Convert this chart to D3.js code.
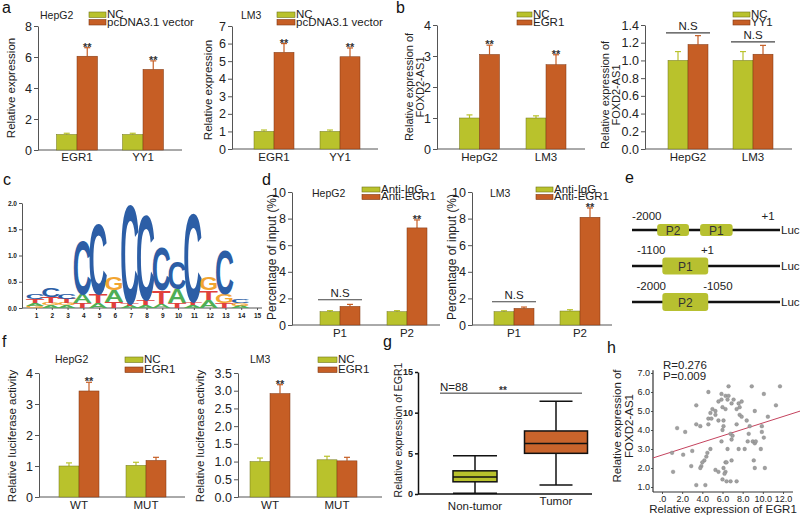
<!DOCTYPE html>
<html>
<head>
<meta charset="utf-8">
<script src="https://cdn.jsdelivr.net/npm/d3@7"></script>
<style>
  body { margin: 0; background: #fff; }
  svg { font-family: Arial, "Liberation Sans", sans-serif; }
</style>
</head>
<body>
<svg id="fig" width="800" height="516"></svg>
<script>
// ---------- data ----------
// a: overexpression of EGR1 / YY1
const genesA = ['EGR1', 'YY1'];
const hepA_nc = [1.0, 1.0], hepA_ncErr = [0.08, 0.08];
const hepA_vec = [6.05, 5.2], hepA_vecErr = [0.55, 0.55];
const lm3A_nc = [1.0, 1.0], lm3A_ncErr = [0.08, 0.08];
const lm3A_vec = [5.5, 5.25], lm3A_vecErr = [0.5, 0.5];

// b: FOXD2-AS1 after EGR1 / YY1
const cellsB = ['HepG2', 'LM3'];
const egrB_nc = [1.0, 1.0], egrB_ncErr = [0.1, 0.07];
const egrB_trt = [3.05, 2.72], egrB_trtErr = [0.3, 0.32];
const yyB_nc = [1.0, 1.0], yyB_ncErr = [0.1, 0.1];
const yyB_trt = [1.18, 1.07], yyB_trtErr = [0.1, 0.1];
const yyB_nsLevel = [1.31, 1.21];

// c: motif logo, letters stacked bottom -> top, height in bits
const logoPos = d3.range(1, 16);
const logoStacks = [
  [['G', 0.04], ['A', 0.05], ['T', 0.08], ['C', 0.10]],
  [['A', 0.05], ['G', 0.04], ['T', 0.12], ['C', 0.19]],
  [['A', 0.05], ['G', 0.04], ['T', 0.09], ['C', 0.10]],
  [['T', 0.10], ['A', 0.17], ['C', 1.05]],
  [['A', 0.10], ['T', 0.17], ['C', 1.40]],
  [['T', 0.12], ['A', 0.22], ['G', 0.25]],
  [['A', 0.04], ['T', 0.04], ['C', 1.95]],
  [['A', 0.05], ['T', 0.10], ['C', 1.68]],
  [['A', 0.08], ['T', 0.26], ['C', 0.85]],
  [['T', 0.10], ['A', 0.27], ['C', 0.54]],
  [['A', 0.05], ['T', 0.06], ['C', 1.75]],
  [['A', 0.15], ['T', 0.19], ['G', 0.25]],
  [['T', 0.10], ['G', 0.17], ['C', 0.88]],
  [['A', 0.04], ['G', 0.05], ['C', 0.08]],
  []
];

// d: ChIP
const sitesD = ['P1', 'P2'];
const hepD_igg = [1.0, 1.0], hepD_iggErr = [0.08, 0.08];
const hepD_egr = [1.4, 7.3], hepD_egrErr = [0.15, 0.6];
const lm3D_igg = [1.0, 1.05], lm3D_iggErr = [0.07, 0.1];
const lm3D_egr = [1.25, 8.1], lm3D_egrErr = [0.1, 0.7];

// e: promoter constructs
const constructRows = [
  { boxes: [['P2', 17, 38.5], ['P1', 46, 68]], labels: [['-2000', 10], ['+1', 92]] },
  { boxes: [['P1', 20.5, 51.5]], labels: [['-1100', 13], ['+1', 51]] },
  { boxes: [['P2', 20.5, 51.5]], labels: [['-2000', 13], ['-1050', 58]] }
];

// f: luciferase
const typesF = ['WT', 'MUT'];
const hepF_nc = [1.0, 1.02], hepF_ncErr = [0.1, 0.1];
const hepF_egr = [3.42, 1.18], hepF_egrErr = [0.28, 0.1];
const lm3F_nc = [1.0, 1.05], lm3F_ncErr = [0.1, 0.1];
const lm3F_egr = [2.92, 1.02], lm3F_egrErr = [0.25, 0.1];

// g: EGR1 in tissues
const groupsG = ['Non-tumor', 'Tumor'];
const boxMin = [0.1, 1.1], boxQ1 = [1.5, 5.0], boxMed = [2.1, 6.2], boxQ3 = [2.85, 7.75], boxMax = [4.7, 11.4];

// h: correlation
const egr1H = [6.6, 8.9, 11.7, 4.6, 5.9, 6.3, 6.6, 10.1, 5.9, 6.5, 7.1, 3.4, 11.3, 6.9, 7.6, 7.9, 6.0, 5.0, 5.3, 6.3,
  7.4, 9.2, 4.8, 5.3, 5.6, 7.7, 7.9, 10.5, 8.4, 4.6, 3.4, 3.8, 1.5, 2.3, 6.1, 6.0, 7.4, 8.7, 9.9, 8.6,
  9.9, 6.8, 7.0, 10.1, 8.5, 5.9, 9.0, 9.2, 6.9, 4.8, 6.5, 1.0, 2.1, 3.0, 9.8, 4.5, 4.4, 4.2, 4.0, 6.9,
  3.9, 3.8, 2.9, 9.1, 6.3, 6.4, 5.3, 5.6, 6.1, 6.3, 6.2, 9.2, 10.2, 1.1, 6.0, 6.4, 6.8, 7.4, 3.4, 4.3,
  8.2, 4.6, 7.7, 5.6, 4.9, 6.1, 7.6, 9.3];
const foxdH = [6.3, 6.3, 6.3, 6.0, 5.9, 5.8, 5.8, 5.9, 5.6, 5.6, 5.6, 5.3, 5.3, 5.4, 5.4, 5.5, 5.2, 5.1, 5.0, 5.1,
  5.1, 5.0, 4.9, 4.8, 4.5, 4.8, 4.7, 4.7, 4.5, 4.6, 4.3, 4.2, 4.1, 3.9, 4.2, 4.0, 4.3, 4.2, 4.2, 3.8,
  3.9, 3.8, 3.7, 3.6, 3.4, 3.4, 3.4, 3.3, 3.5, 3.0, 3.0, 2.8, 2.7, 2.9, 3.0, 2.8, 2.6, 2.4, 2.3, 2.4,
  2.1, 2.0, 2.1, 2.4, 2.3, 2.3, 1.9, 1.8, 2.0, 1.8, 1.7, 2.0, 2.0, 1.8, 1.4, 1.3, 1.3, 1.3, 1.1, 1.1,
  3.0, 4.3, 5.2, 5.5, 4.6, 4.5, 3.0, 3.4];
const fitIntercept = 2.68, fitSlope = 0.169;

// ---------- drawing ----------
const ncColor = '#b9c22c', trtColor = '#c65e25';
const ncEdge = '#6f7419', trtEdge = '#7d3612';
const svg = d3.select('#fig');

function panelLetter(t, x, y) {
  svg.append('text').attr('x', x).attr('y', y).attr('font-size', 16).attr('fill', '#111').text(t);
}

function rotTitle(lines, xs, cy, size) {
  lines.forEach(function (t, i) {
    svg.append('text')
      .attr('transform', 'translate(' + xs[i] + ',' + cy + ') rotate(-90)')
      .attr('text-anchor', 'middle').attr('font-size', size).attr('fill', '#222').text(t);
  });
}

function styleAxis(g, size) {
  g.selectAll('.domain').attr('stroke', '#555').attr('stroke-width', 1);
  g.selectAll('.tick line').attr('stroke', '#555');
  g.selectAll('.tick text').attr('font-size', size).attr('fill', '#222').attr('font-family', 'Arial, "Liberation Sans", sans-serif');
}

function barPanel(c) {
  var y = d3.scaleLinear().domain([0, c.ymax]).range([c.base, c.top]);
  var x = d3.scalePoint().domain(c.cats).range(c.cx);
  var g = svg.append('g');

  var ax = g.append('g').attr('transform', 'translate(' + c.ax + ',0)')
    .call(d3.axisLeft(y).tickValues(c.ticks).tickFormat(c.fmt).tickSize(4).tickSizeOuter(0).tickPadding(2));
  styleAxis(ax, 12.5);
  g.append('line').attr('x1', c.ax).attr('x2', c.xEnd).attr('y1', c.base).attr('y2', c.base)
    .attr('stroke', '#555');

  c.cats.forEach(function (cat) {
    g.append('text').attr('x', x(cat)).attr('y', c.labY)
      .attr('text-anchor', 'middle').attr('font-size', 11.5).attr('fill', '#222').text(cat);
  });

  var series = [
    { vals: c.s1, errs: c.e1, fill: ncColor, edge: ncEdge, off: -1 },
    { vals: c.s2, errs: c.e2, fill: trtColor, edge: trtEdge, off: 0 }
  ];
  series.forEach(function (s) {
    c.cats.forEach(function (cat, i) {
      var x0 = x(cat) + s.off * c.bw;
      var cx = x0 + c.bw / 2;
      var top = y(s.vals[i] + s.errs[i]);
      g.append('line').attr('x1', cx).attr('x2', cx).attr('y1', y(s.vals[i])).attr('y2', top)
        .attr('stroke', s.fill).attr('stroke-width', 1.2);
      g.append('line').attr('x1', cx - 3).attr('x2', cx + 3).attr('y1', top).attr('y2', top)
        .attr('stroke', s.fill).attr('stroke-width', 1.2);
      g.append('rect').attr('x', x0).attr('y', y(s.vals[i]))
        .attr('width', c.bw).attr('height', c.base - y(s.vals[i]))
        .attr('fill', s.fill).attr('stroke', s.edge).attr('stroke-width', 0.5);
      if (s.off === 0 && c.sig && c.sig[i]) {
        g.append('text').attr('x', cx).attr('y', top + 3).attr('text-anchor', 'middle')
          .attr('font-size', 11).attr('font-weight', 'bold').attr('fill', '#333').text(c.sig[i]);
      }
    });
  });

  if (c.ns) {
    c.cats.forEach(function (cat, i) {
      if (c.ns[i] == null) return;
      var yy = y(c.ns[i]);
      g.append('line').attr('x1', x(cat) - c.bw - 2).attr('x2', x(cat) + c.bw + 2)
        .attr('y1', yy).attr('y2', yy).attr('stroke', '#444').attr('stroke-width', 1.2);
      g.append('text').attr('x', x(cat)).attr('y', yy - 3).attr('text-anchor', 'middle')
        .attr('font-size', 11.5).attr('fill', '#222').text('N.S');
    });
  }

  [c.legend[0], c.legend[1]].forEach(function (lab, i) {
    g.append('rect').attr('x', c.legX).attr('y', c.legY[i]).attr('width', c.legW).attr('height', c.legH)
      .attr('fill', i === 0 ? ncColor : trtColor).attr('stroke', i === 0 ? ncEdge : trtEdge).attr('stroke-width', 0.6);
    g.append('text').attr('x', c.legX + c.legW + 1).attr('y', c.legY[i] + c.legH + 0.5)
      .attr('font-size', 11.5).attr('fill', '#222').text(lab);
  });

  if (c.cell) {
    g.append('text').attr('x', c.cellX).attr('y', c.cellY).attr('font-size', 10.5).attr('fill', '#222').text(c.cell);
  }
  rotTitle(c.title, c.titleX, c.titleY, c.titleSize || 11.5);
}

var fmtInt = d3.format('d'), fmt1 = d3.format('.1f');

// panel a
barPanel({ cats: genesA, s1: hepA_nc, e1: hepA_ncErr, s2: hepA_vec, e2: hepA_vecErr, sig: ['**', '**'],
  ymax: 8, ticks: [0, 2, 4, 6, 8], fmt: fmtInt, ax: 38, xEnd: 182, base: 150, top: 26, cx: [77, 143], bw: 20.5,
  labY: 161, legend: ['NC', 'pcDNA3.1 vector'], legX: 89, legY: [12, 19.5], legW: 17, legH: 5.5,
  cell: 'HepG2', cellX: 40, cellY: 19, title: ['Relative expression'], titleX: [15], titleY: 88 });
barPanel({ cats: genesA, s1: lm3A_nc, e1: lm3A_ncErr, s2: lm3A_vec, e2: lm3A_vecErr, sig: ['**', '**'],
  ymax: 7, ticks: d3.range(0, 8), fmt: fmtInt, ax: 232, xEnd: 378, base: 149, top: 26, cx: [274, 340], bw: 20,
  labY: 161, legend: ['NC', 'pcDNA3.1 vector'], legX: 277, legY: [12, 19.5], legW: 18, legH: 5.5,
  cell: 'LM3', cellX: 241, cellY: 19, title: ['Relative expression'], titleX: [212], titleY: 90 });

// panel b
barPanel({ cats: cellsB, s1: egrB_nc, e1: egrB_ncErr, s2: egrB_trt, e2: egrB_trtErr, sig: ['**', '**'],
  ymax: 4, ticks: [0, 1, 2, 3, 4], fmt: fmtInt, ax: 437, xEnd: 585, base: 149, top: 25, cx: [479.5, 546], bw: 20,
  labY: 161, legend: ['NC', 'EGR1'], legX: 517, legY: [12, 20], legW: 15, legH: 5,
  title: ['Relative expression of', 'FOXD2-AS1'], titleX: [413, 424], titleY: 87, titleSize: 11 });
barPanel({ cats: cellsB, s1: yyB_nc, e1: yyB_ncErr, s2: yyB_trt, e2: yyB_trtErr, ns: yyB_nsLevel,
  ymax: 1.4, ticks: [0, 0.2, 0.4, 0.6, 0.8, 1.0, 1.2, 1.4], fmt: fmt1, ax: 645, xEnd: 792, base: 149, top: 25,
  cx: [688, 753], bw: 20, labY: 161, legend: ['NC', 'YY1'], legX: 733, legY: [12, 20], legW: 17, legH: 5,
  title: ['Relative expression of', 'FOXD2-AS1'], titleX: [609, 620], titleY: 95, titleSize: 11 });

// panel d
barPanel({ cats: sitesD, s1: hepD_igg, e1: hepD_iggErr, s2: hepD_egr, e2: hepD_egrErr, sig: ['', '**'],
  ns: [1.9, null], ymax: 10, ticks: [0, 2, 4, 6, 8, 10], fmt: fmtInt, ax: 292, xEnd: 440, base: 325, top: 192,
  cx: [340, 407], bw: 20, labY: 337, legend: ['Anti-IgG', 'Anti-EGR1'], legX: 362, legY: [187, 194.5], legW: 18, legH: 5,
  cell: 'HepG2', cellX: 312, cellY: 197, title: ['Percentage of input (%)'], titleX: [276], titleY: 257, titleSize: 12 });
barPanel({ cats: sitesD, s1: lm3D_igg, e1: lm3D_iggErr, s2: lm3D_egr, e2: lm3D_egrErr, sig: ['', '**'],
  ns: [1.75, null], ymax: 10, ticks: [0, 2, 4, 6, 8, 10], fmt: fmtInt, ax: 472, xEnd: 612, base: 325, top: 192,
  cx: [514, 580], bw: 20, labY: 337, legend: ['Anti-IgG', 'Anti-EGR1'], legX: 536, legY: [187, 194.5], legW: 17, legH: 5,
  cell: 'LM3', cellX: 490, cellY: 197, title: ['Percentage of input (%)'], titleX: [456], titleY: 257, titleSize: 12 });

// panel f
barPanel({ cats: typesF, s1: hepF_nc, e1: hepF_ncErr, s2: hepF_egr, e2: hepF_egrErr, sig: ['**', ''],
  ymax: 4, ticks: [0, 1, 2, 3, 4], fmt: fmtInt, ax: 39, xEnd: 185, base: 497, top: 373, cx: [79, 146], bw: 20,
  labY: 509, legend: ['NC', 'EGR1'], legX: 125, legY: [357, 367], legW: 18, legH: 5.5,
  cell: 'HepG2', cellX: 55, cellY: 363, title: ['Relative luciferase activity'], titleX: [16], titleY: 436 });
barPanel({ cats: typesF, s1: lm3F_nc, e1: lm3F_ncErr, s2: lm3F_egr, e2: lm3F_egrErr, sig: ['**', ''],
  ymax: 3.5, ticks: [0, 0.5, 1, 1.5, 2, 2.5, 3, 3.5], fmt: fmt1, ax: 238, xEnd: 382, base: 497, top: 373,
  cx: [270, 337], bw: 20, labY: 509, legend: ['NC', 'EGR1'], legX: 318, legY: [357, 367], legW: 19, legH: 5.5,
  cell: 'LM3', cellX: 250, cellY: 363, title: ['Relative luciferase activity'], titleX: [204], titleY: 436 });

// panel c: sequence logo
(function () {
  var xL = d3.scaleLinear().domain([1, 15]).range([36, 257]);
  var yL = d3.scaleLinear().domain([0, 2]).range([308, 203]);
  var colors = { C: '#2c5ea6', G: '#f2a531', A: '#4fae55', T: '#e0403c' };
  var adv = { C: 0.72, G: 0.78, A: 0.70, T: 0.62 };
  var letterW = 19;
  var ya = svg.append('g').attr('transform', 'translate(22,0)')
    .call(d3.axisLeft(yL).tickValues([0, 0.5, 1, 1.5, 2]).tickFormat(fmt1).tickSize(3).tickSizeOuter(0).tickPadding(2));
  styleAxis(ya, 6.5);
  ya.selectAll('.tick text').attr('font-weight', 'bold');
  var xa = svg.append('g').attr('transform', 'translate(0,308)')
    .call(d3.axisBottom(xL).tickValues(logoPos).tickFormat(fmtInt).tickSize(2).tickSizeOuter(0).tickPadding(3));
  xa.select('.domain').remove();
  styleAxis(xa, 6.5);
  xa.selectAll('.tick text').attr('font-weight', 'bold');
  svg.append('line').attr('x1', 22).attr('x2', 262).attr('y1', 308).attr('y2', 308).attr('stroke', '#555');

  logoStacks.forEach(function (stack, i) {
    var cum = 0;
    var cx = xL(logoPos[i]) - 1;
    stack.forEach(function (l) {
      var letter = l[0], h = l[1];
      var yb = yL(cum), yt = yL(cum + h);
      var sx = letterW / (adv[letter] * 10), sy = (yb - yt) / 7.3;
      svg.append('text')
        .attr('transform', 'translate(' + cx + ',' + yb + ') scale(' + sx + ',' + sy + ')')
        .attr('text-anchor', 'middle').attr('font-size', 10).attr('font-weight', 'bold')
        .attr('fill', colors[letter]).text(letter);
      cum += h;
    });
  });
})();

// panel e: constructs
(function () {
  var xe = d3.scaleLinear().domain([0, 100]).range([632, 780]);
  var rowY = d3.scalePoint().domain([0, 1, 2]).range([230, 302]);
  var boxH = [12, 17, 18];
  constructRows.forEach(function (row, r) {
    var yy = rowY(r);
    svg.append('line').attr('x1', xe(0)).attr('x2', xe(100)).attr('y1', yy).attr('y2', yy)
      .attr('stroke', '#111').attr('stroke-width', 2.5);
    svg.append('text').attr('x', xe(100) + 1).attr('y', yy + 4).attr('font-size', 11.5).attr('fill', '#222').text('Luc');
    row.boxes.forEach(function (b) {
      svg.append('rect').attr('x', xe(b[1])).attr('y', yy - boxH[r] / 2)
        .attr('width', xe(b[2]) - xe(b[1])).attr('height', boxH[r]).attr('rx', 3)
        .attr('fill', '#b7c030');
      svg.append('text').attr('x', (xe(b[1]) + xe(b[2])) / 2).attr('y', yy + 4.5)
        .attr('text-anchor', 'middle').attr('font-size', 12).attr('fill', '#333').text(b[0]);
    });
    row.labels.forEach(function (lb) {
      svg.append('text').attr('x', xe(lb[1])).attr('y', yy - (r === 0 ? 10 : 12))
        .attr('text-anchor', 'middle').attr('font-size', 11.5).attr('fill', '#222').text(lb[0]);
    });
  });
})();

// panel g: box plot
(function () {
  var y = d3.scaleLinear().domain([0, 15]).range([494, 372]);
  var x = d3.scalePoint().domain(groupsG).range([475, 556]);
  var boxW = [44, 63], capW = [44, 33], fills = [ncColor, '#c9642c'];
  var ax = svg.append('g').attr('transform', 'translate(418,0)')
    .call(d3.axisLeft(y).tickValues([0, 5, 10, 15]).tickFormat(fmtInt).tickSize(3).tickSizeOuter(0).tickPadding(2));
  styleAxis(ax, 9);
  ax.select('.domain').attr('stroke', '#111').attr('stroke-width', 1.5);
  ax.selectAll('.tick line').attr('stroke', '#111').attr('stroke-width', 1.5);
  ax.selectAll('.tick text').attr('font-weight', 'bold');
  svg.append('line').attr('x1', 418).attr('x2', 592).attr('y1', 494).attr('y2', 494).attr('stroke', '#111').attr('stroke-width', 1.5);

  groupsG.forEach(function (grp, i) {
    var cx = x(grp);
    var g = svg.append('g').attr('stroke', '#111').attr('stroke-width', 1.5);
    g.append('line').attr('x1', cx).attr('x2', cx).attr('y1', y(boxMin[i])).attr('y2', y(boxMax[i]));
    [boxMin[i], boxMax[i]].forEach(function (v) {
      g.append('line').attr('x1', cx - capW[i] / 2).attr('x2', cx + capW[i] / 2).attr('y1', y(v)).attr('y2', y(v));
    });
    g.append('rect').attr('x', cx - boxW[i] / 2).attr('y', y(boxQ3[i]))
      .attr('width', boxW[i]).attr('height', y(boxQ1[i]) - y(boxQ3[i])).attr('fill', fills[i]);
    g.append('line').attr('x1', cx - boxW[i] / 2).attr('x2', cx + boxW[i] / 2).attr('y1', y(boxMed[i])).attr('y2', y(boxMed[i]));
  });
  svg.append('text').attr('x', x(groupsG[0])).attr('y', 510).attr('text-anchor', 'middle')
    .attr('font-size', 11.5).attr('fill', '#222').text(groupsG[0]);
  svg.append('text').attr('x', x(groupsG[1])).attr('y', 505).attr('text-anchor', 'middle')
    .attr('font-size', 11.5).attr('fill', '#222').text(groupsG[1]);
  svg.append('line').attr('x1', 440).attr('x2', 582).attr('y1', y(12.4)).attr('y2', y(12.4)).attr('stroke', '#333');
  svg.append('text').attr('x', 440).attr('y', y(12.4) - 2).attr('font-size', 11.5).attr('fill', '#222').text('N=88');
  svg.append('text').attr('x', 503).attr('y', y(12.4) + 1).attr('font-size', 10).attr('font-weight', 'bold')
    .attr('fill', '#333').attr('text-anchor', 'middle').text('**');
  rotTitle(['Relative expression of EGR1'], [402], 430, 10.5);
})();

// panel h: scatter
(function () {
  var x = d3.scaleLinear().domain([0, 12]).range([662, 783]);
  var y = d3.scaleLinear().domain([1, 7]).range([487, 373]);
  var xa = svg.append('g').attr('transform', 'translate(0,492)')
    .call(d3.axisBottom(x).tickValues([0, 2, 4, 6, 8, 10, 12])
      .tickFormat(function (d) { return d === 0 ? '.0' : fmt1(d); }).tickSize(2).tickSizeOuter(0).tickPadding(2));
  xa.select('.domain').remove();
  styleAxis(xa, 9);
  var ya = svg.append('g').attr('transform', 'translate(653,0)')
    .call(d3.axisLeft(y).tickValues(d3.range(1, 8)).tickFormat(fmt1).tickSize(2).tickSizeOuter(0).tickPadding(1));
  ya.select('.domain').remove();
  styleAxis(ya, 9);
  svg.append('line').attr('x1', 653).attr('x2', 653).attr('y1', y(7.15)).attr('y2', 492).attr('stroke', '#333').attr('stroke-width', 1.2);
  svg.append('line').attr('x1', 653).attr('x2', 793).attr('y1', 492).attr('y2', 492).attr('stroke', '#333').attr('stroke-width', 1.2);

  var x0 = x.invert(653), x1 = x.invert(800);
  svg.append('line').attr('x1', x(x0)).attr('x2', x(x1))
    .attr('y1', y(fitIntercept + fitSlope * x0)).attr('y2', y(fitIntercept + fitSlope * x1))
    .attr('stroke', '#c4435e').attr('stroke-width', 1);

  svg.selectAll('.pt').data(egr1H).enter().append('circle')
    .attr('cx', function (d) { return x(d); })
    .attr('cy', function (d, i) { return y(foxdH[i]); })
    .attr('r', 1.9).attr('fill', '#a0a0a0').attr('stroke', '#777').attr('stroke-width', 0.3);

  svg.append('text').attr('x', 663).attr('y', 369).attr('font-size', 11.5).attr('fill', '#222').text('R=0.276');
  svg.append('text').attr('x', 663).attr('y', 380).attr('font-size', 11.5).attr('fill', '#222').text('P=0.009');
  svg.append('text').attr('x', 723).attr('y', 513).attr('text-anchor', 'middle').attr('font-size', 11.5)
    .attr('fill', '#222').text('Relative expression of EGR1');
  rotTitle(['Relative expression of', 'FOXD2-AS1'], [621, 633], 426, 11.5);
})();

panelLetter('a', 2, 13);
panelLetter('b', 396, 13);
panelLetter('c', 3, 185);
panelLetter('d', 262, 185);
panelLetter('e', 625, 183);
panelLetter('f', 2, 347);
panelLetter('g', 383, 347);
panelLetter('h', 607, 353);
</script>
</body>
</html>
